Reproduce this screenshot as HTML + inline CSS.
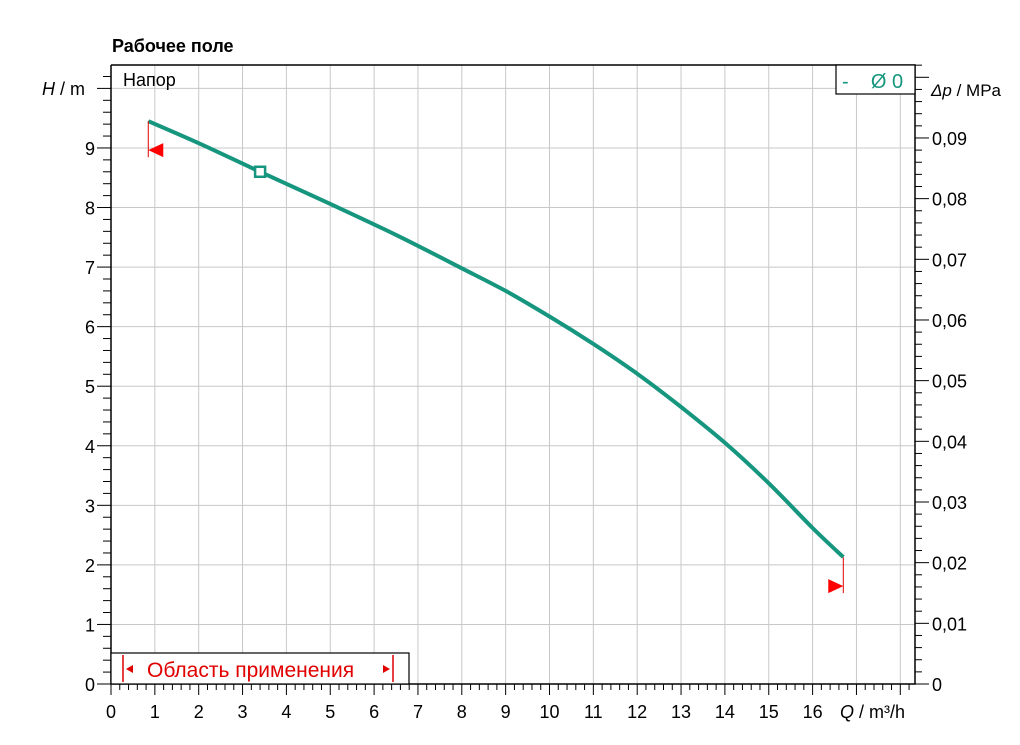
<!DOCTYPE html>
<html><head><meta charset="utf-8"><style>
body{margin:0;background:#fff;font-family:"Liberation Sans",sans-serif}
svg text{font-family:"Liberation Sans",sans-serif}
</style></head><body>
<svg id="c" width="1020" height="740" xmlns="http://www.w3.org/2000/svg">
<text x="112" y="52" font-size="18" font-weight="bold">Рабочее поле</text>
<g id="grid"></g><g id="axes"></g><g id="series"></g>
</svg>
<script>
const xTicks=[0,1,2,3,4,5,6,7,8,9,10,11,12,13,14,15,16];
const yTicks=[0,1,2,3,4,5,6,7,8,9];
const pTicks=[0,0.01,0.02,0.03,0.04,0.05,0.06,0.07,0.08,0.09];
const pLabels=["0","0,01","0,02","0,03","0,04","0,05","0,06","0,07","0,08","0,09"];
const curveQ=[0.85,2,3.4,5,6.5,8,9,10,11,12,13,14,15,16,16.7];
const curveH=[9.45,9.08,8.6,8.06,7.54,6.98,6.6,6.17,5.71,5.21,4.65,4.05,3.37,2.62,2.13];
const opPoint=[3.4,8.6];
const L=111,R=915,T=65,B=684;
const X=q=>L+q*43.85, Y=h=>B-h*59.56, P=p=>B-p*6067;
const NS="http://www.w3.org/2000/svg";
function mk(tag,attrs,parent,txt){const e=document.createElementNS(NS,tag);for(const k in attrs)e.setAttribute(k,attrs[k]);if(txt!==undefined)e.textContent=txt;document.getElementById(parent).appendChild(e);return e;}
for(let q=1;q<=18;q++){const e=mk('line',{x1:X(q),x2:X(q),y1:T,y2:B,stroke:'#c8c8c8','stroke-width':1},'grid');

}
for(let h=1;h<=10;h++){const e=mk('line',{x1:L,x2:R,y1:Y(h),y2:Y(h),stroke:'#c8c8c8','stroke-width':1},'grid');

}
const fr=mk('path',{d:`M${L} ${T}V${B}H${R}V${T}H${L}`,fill:'none',stroke:'#000','stroke-width':1.5},'axes');


for(let i=0;i<=91;i++){const q=i*0.2;const xx=X(q);if(xx>R)break;const maj=i%5==0;mk('line',{x1:xx,x2:xx,y1:B,y2:B+(maj?11:6),stroke:'#000','stroke-width':1},'axes');}
xTicks.forEach(q=>{const t=mk('text',{x:X(q),y:B+34,'font-size':18,'text-anchor':'middle'},'axes',String(q));

});
for(let i=0;i<=51;i++){const h=i*0.2;const yy=Y(h);if(yy<T)break;const maj=i%5==0;mk('line',{x1:L-(maj?14:8),x2:L,y1:yy,y2:yy,stroke:'#000','stroke-width':1},'axes');}
yTicks.forEach(h=>{const t=mk('text',{x:L-16,y:Y(h)+7,'font-size':18,'text-anchor':'end'},'axes',String(h));

});
for(let i=0;i<=51;i++){const p=i*0.002;const yy=P(p);if(yy<T)break;const maj=i%5==0;mk('line',{x1:R,x2:R+(maj?14:7),y1:yy,y2:yy,stroke:'#000','stroke-width':1},'axes');}
pTicks.forEach((p,i)=>{const t=mk('text',{x:R+17,y:P(p)+7,'font-size':18},'axes',pLabels[i]);

});
let t=mk('text',{x:42,y:95,'font-size':18},'axes');t.innerHTML='<tspan font-style="italic">H</tspan>  / m';


t=mk('text',{x:931,y:96,'font-size':17},'axes');t.innerHTML='<tspan font-style="italic">Δp</tspan> / MPa';


t=mk('text',{x:840,y:718,'font-size':18},'axes');t.innerHTML='<tspan font-style="italic">Q</tspan> / m³/h';


t=mk('text',{x:123,y:86,'font-size':18},'axes','Напор');


let g=mk('rect',{x:836,y:T,width:R-836,height:29,fill:'#fff',stroke:'#000','stroke-width':1.2},'axes');


t=mk('text',{x:842,y:88,'font-size':20,fill:'#16967e',style:'white-space:pre'},'axes','-    Ø 0');


g=mk('rect',{x:L,y:653,width:298,height:B-653,fill:'#fff',stroke:'#000','stroke-width':1.2},'axes');


mk('line',{x1:123,x2:123,y1:655,y2:682,stroke:'#e00000','stroke-width':1.5},'axes');
mk('line',{x1:393,x2:393,y1:655,y2:682,stroke:'#e00000','stroke-width':1.5},'axes');
mk('path',{d:'M126 669l7-4v8z M390 669l-7-4v8z',fill:'#e00000'},'axes');
t=mk('text',{x:147,y:677,'font-size':21,fill:'#e00000'},'axes','Область применения');


// smooth curve (Catmull-Rom)
const pts=curveQ.map((q,i)=>[X(q),Y(curveH[i])]);
let d='M'+pts[0][0].toFixed(1)+' '+pts[0][1].toFixed(1);
for(let i=0;i<pts.length-1;i++){const p0=pts[Math.max(0,i-1)],p1=pts[i],p2=pts[i+1],p3=pts[Math.min(pts.length-1,i+2)];
const c1=[p1[0]+(p2[0]-p0[0])/6,p1[1]+(p2[1]-p0[1])/6],c2=[p2[0]-(p3[0]-p1[0])/6,p2[1]-(p3[1]-p1[1])/6];
d+=` C${c1[0].toFixed(1)} ${c1[1].toFixed(1)} ${c2[0].toFixed(1)} ${c2[1].toFixed(1)} ${p2[0].toFixed(1)} ${p2[1].toFixed(1)}`;}
let c=mk('path',{d:d,fill:'none',stroke:'#16967e','stroke-width':4,'stroke-linejoin':'round'},'series');


let m=mk('rect',{x:X(opPoint[0])-5,y:Y(opPoint[1])-5,width:10,height:10,fill:'#fff',stroke:'#16967e','stroke-width':2.5},'series');


const q0=curveQ[0],h0=curveH[0],q1=curveQ[curveQ.length-1],h1=curveH[curveH.length-1];
mk('line',{x1:X(q0),x2:X(q0),y1:Y(h0),y2:Y(h0)+36,stroke:'#e00000','stroke-width':1},'series');
m=mk('path',{d:`M${X(q0)} ${Y(h0)+29}l15 -7v14z`,fill:'#ff0000'},'series');


mk('line',{x1:X(q1),x2:X(q1),y1:Y(h1),y2:Y(h1)+36,stroke:'#e00000','stroke-width':1},'series');
m=mk('path',{d:`M${X(q1)} ${Y(h1)+29}l-15 -7v14z`,fill:'#ff0000'},'series');


</script>
</body></html>
